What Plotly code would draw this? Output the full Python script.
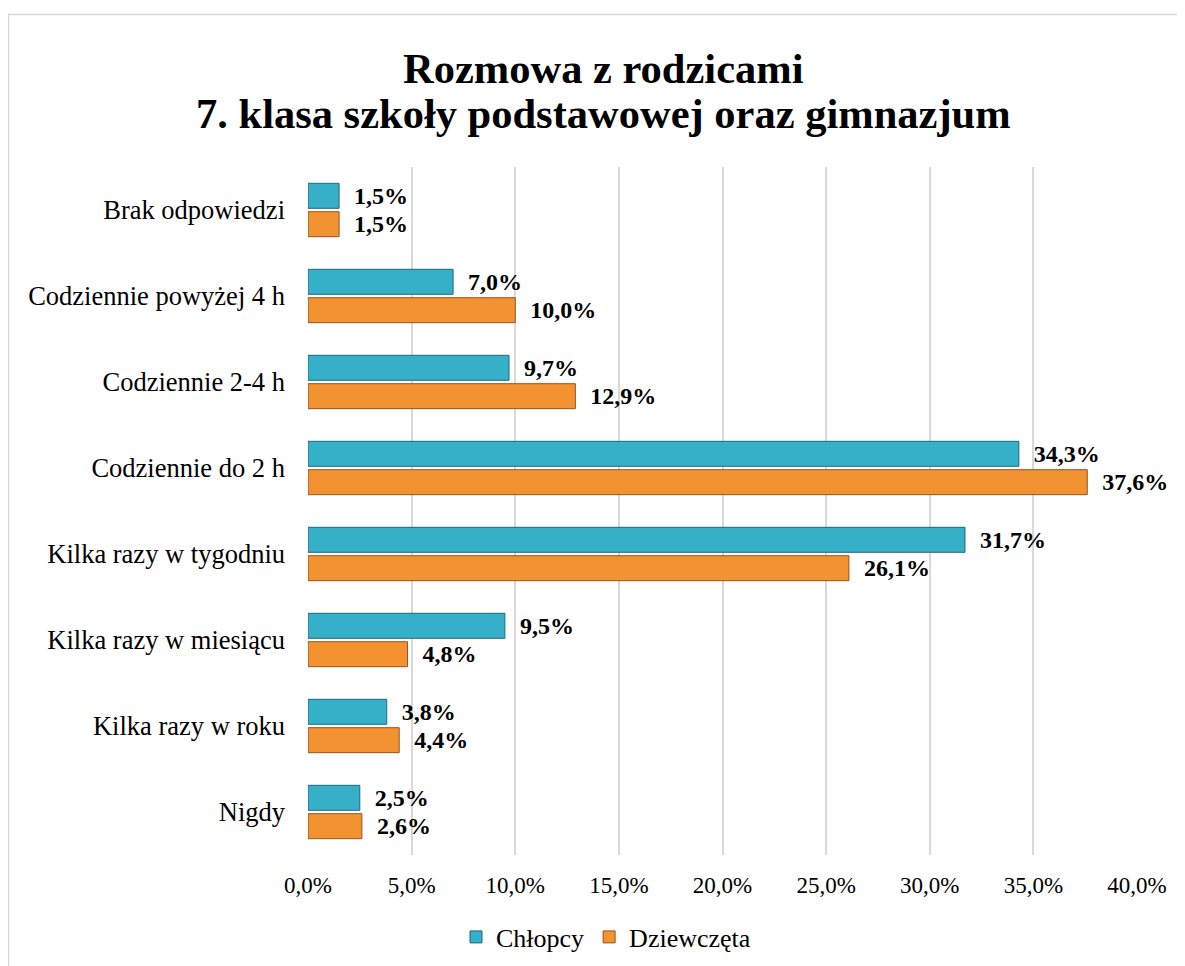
import plotly.graph_objects as go

categories = ["Brak odpowiedzi", "Codziennie powyżej 4 h", "Codziennie 2-4 h",
              "Codziennie do 2 h", "Kilka razy w tygodniu", "Kilka razy w miesiącu",
              "Kilka razy w roku", "Nigdy"]
chlopcy = [1.5, 7.0, 9.7, 34.3, 31.7, 9.5, 3.8, 2.5]
dziewczeta = [1.5, 10.0, 12.9, 37.6, 26.1, 4.8, 4.4, 2.6]
tick_vals = [0, 5, 10, 15, 20, 25, 30, 35, 40]
tick_text = ["0,0%", "5,0%", "10,0%", "15,0%", "20,0%", "25,0%", "30,0%", "35,0%", "40,0%"]
title_lines = ["Rozmowa z rodzicami", "7. klasa szkoły podstawowej oraz gimnazjum"]

FONT = "Liberation Serif, Times New Roman, serif"

def labels(vals):
    return ["\u00a0\u00a0" + f"{v:.1f}".replace(".", ",") + "%" for v in vals]

fig = go.Figure()
fig.add_trace(go.Bar(
    y=categories, x=chlopcy, orientation="h", name="Chłopcy",
    marker=dict(color="#36AFC8", line=dict(color="#1E6A7B", width=1)),
    text=labels(chlopcy), textposition="outside", cliponaxis=False, constraintext="none",
    textfont=dict(family=FONT, size=24, color="#000000", weight="bold"),
))
fig.add_trace(go.Bar(
    y=categories, x=dziewczeta, orientation="h", name="Dziewczęta",
    marker=dict(color="#F39231", line=dict(color="#98531A", width=1)),
    text=labels(dziewczeta), textposition="outside", cliponaxis=False, constraintext="none",
    textfont=dict(family=FONT, size=24, color="#000000", weight="bold"),
))

# page body has an 8px margin; work in reference coords minus 8
O = 8
W, H = 1185 - O, 966 - O
L, R, T, B = 308 - O, 1137 - O, 167 - O, 855 - O

def px(x):
    return (x - O - L) / (R - L)

def py(y):
    return (B - (y - O)) / (B - T)

fig.update_layout(
    width=W, height=H,
    margin=dict(l=L, r=W - R, t=T, b=H - B, pad=0, autoexpand=False),
    paper_bgcolor="white", plot_bgcolor="white",
    barmode="group", bargap=0.34, bargroupgap=0.12,
    font=dict(family=FONT, color="#000000"),
    xaxis=dict(
        range=[0, 40], tickvals=tick_vals, ticktext=tick_text,
        showgrid=True, gridcolor="#D9D9D9", gridwidth=2,
        zeroline=False, showline=False, ticks="", automargin=False,
        tickfont=dict(family=FONT, size=23, color="#000000"),
        ticklabelstandoff=14,
    ),
    yaxis=dict(
        categoryorder="array", categoryarray=categories, autorange="reversed",
        showgrid=False, zeroline=False, showline=False, ticks="", automargin=False,
        tickfont=dict(family=FONT, size=26.5, color="#000000"),
        ticklabelstandoff=22,
    ),
    legend=dict(
        orientation="h", x=px(606), xanchor="center",
        y=py(937), yanchor="middle",
        font=dict(family=FONT, size=26, color="#000000"),
        itemwidth=30, tracegroupgap=0,
    ),
    annotations=[
        dict(text="<b>" + title_lines[0] + "</b>", xref="paper", yref="paper",
             x=px(603), y=py(68), xanchor="center", yanchor="middle", showarrow=False,
             font=dict(family=FONT, size=42.5, color="#000000")),
        dict(text="<b>" + title_lines[1] + "</b>", xref="paper", yref="paper",
             x=px(603), y=py(113), xanchor="center", yanchor="middle", showarrow=False,
             font=dict(family=FONT, size=42.5, color="#000000")),
    ],
    shapes=[dict(
        type="rect", xref="paper", yref="paper",
        x0=px(8.5), x1=px(1210), y0=py(990), y1=py(14.5),
        line=dict(color="#D9D9D9", width=1.5), fillcolor="rgba(0,0,0,0)", layer="below",
    )],
)

fig.write_html("out.html")
